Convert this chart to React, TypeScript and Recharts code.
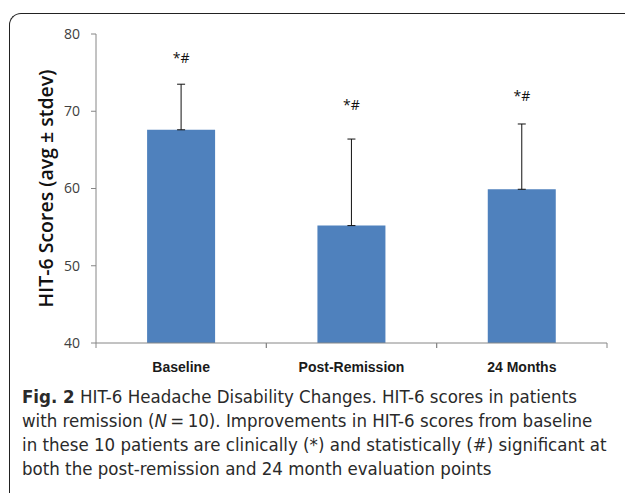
import { ComposedChart, Bar, Line, XAxis, YAxis, ErrorBar, LabelList } from "recharts";

const categories = ["Baseline", "Post-Remission", "24 Months"];
const means = [67.6, 55.2, 59.9];
const stdevs = [5.9, 11.2, 8.45];
const markY = [76.9, 70.8, 72.0];
const markText = ["*#", "*#", "*#"];
const yTicks = [40, 50, 60, 70, 80];

const captionLines = [
  { bold: "Fig. 2", text: " HIT-6 Headache Disability Changes. HIT-6 scores in patients" },
  { text: "with remission (", italic: "N", rest: "\u2009=\u200910). Improvements in HIT-6 scores from baseline" },
  { text: "in these 10 patients are clinically (*) and statistically (#) significant at" },
  { text: "both the post-remission and 24 month evaluation points" },
];

const data = categories.map((name, i) => ({
  name,
  mean: means[i],
  err: [0, stdevs[i]],
  mark: markY[i],
  sig: markText[i],
}));

const XTick = (props: any) => {
  const { x, y, payload } = props;
  const off = payload.offset || 0;
  return (
    <g>
      <line x1={x - off} x2={x - off} y1={y - 5} y2={y} stroke="#868686" />
      <line x1={x + off} x2={x + off} y1={y - 5} y2={y} stroke="#868686" />
      <text x={x} y={y + 19} textAnchor="middle" dominantBaseline="central" fontSize={14} fontWeight="bold"
        fontFamily="'Liberation Sans Narrow', 'Liberation Sans', Arial, sans-serif" fill="#1a1a1a">
        {payload.value}
      </text>
    </g>
  );
};

export default function App() {
  return (
    <div style={{ position: "fixed", left: 0, top: 0, width: 625, height: 493, overflow: "hidden", background: "#fff" }}>
      {/* frame */}
      <div style={{
        position: "absolute", left: 9, top: 13, width: 700, height: 600, boxSizing: "border-box",
        borderLeft: "1.5px solid #222", borderTop: "1.5px solid #222", borderTopLeftRadius: 12,
      }} />
      <div style={{ position: "absolute", left: 0, top: 0 }}>
        <ComposedChart width={625} height={380} data={data}
          margin={{ top: 34, right: 18, left: 0, bottom: 0 }} barCategoryGap="30%">
          <XAxis dataKey="name" height={37} tickSize={5} tickMargin={0} tickLine={false}
            axisLine={{ stroke: "#868686" }} tick={<XTick />} interval={0} />
          <YAxis width={96} domain={[40, 80]} ticks={yTicks} tickSize={5} tickMargin={11}
            axisLine={{ stroke: "#868686" }} tickLine={{ stroke: "#868686" }}
            tick={{ fontSize: 14, fill: "#404040", fontFamily: "'Open Sans', sans-serif" }}
            label={{
              value: "HIT-6 Scores (avg \u00b1 stdev)", angle: -90, position: "insideLeft", offset: 46,
              style: { textAnchor: "middle", fontSize: 19.5, fontWeight: 600, fill: "#111", fontFamily: "'Open Sans', sans-serif" },
            }} />
          <Bar dataKey="mean" fill="#4f81bd" isAnimationActive={false}>
            <ErrorBar dataKey="err" width={4} stroke="#111" strokeWidth={1} direction="y" />
          </Bar>
          <Line dataKey="mark" stroke="none" dot={false} activeDot={false} isAnimationActive={false}>
            <LabelList dataKey="sig" position="center" fontSize={14} fill="#111"
              fontFamily="'Open Sans', sans-serif" />
          </Line>
        </ComposedChart>
      </div>
      <div style={{
        position: "absolute", left: 22, top: 385, fontSize: 18.5, lineHeight: "24px",
        fontFamily: "'Liberation Sans Narrow', 'DejaVu Sans Condensed', sans-serif", color: "#2a2a2a", whiteSpace: "nowrap",
      }}>
        {captionLines.map((l, i) => (
          <div key={i}>
            {l.bold && <b>{l.bold}</b>}
            {l.text}
            {l.italic && <i>{l.italic}</i>}
            {l.rest}
          </div>
        ))}
      </div>
    </div>
  );
}
